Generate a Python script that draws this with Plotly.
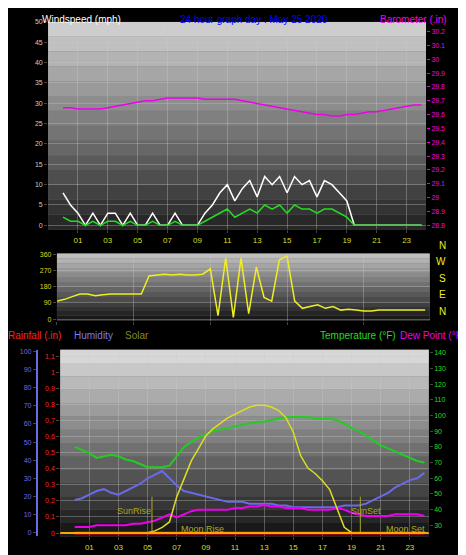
import plotly.graph_objects as go

hours = [i * 0.5 for i in range(49)]

wind_gust = [8, 5, 3, 0, 3, 0, 3, 3, 0, 3, 0, 0, 3, 0, 0, 3, 0, 0, 0, 3, 5, 8, 10, 6, 9, 11, 7, 12,
             10, 12, 8, 12, 10, 11, 7, 11, 10, 8, 6, 0, 0, 0, 0, 0, 0, 0, 0, 0, 0]
wind_avg = [2, 1, 1, 0, 1, 0, 1, 1, 0, 1, 0, 0, 1, 0, 0, 1, 0, 0, 0, 1, 2, 3, 4, 2, 3, 4, 3, 5,
            4, 5, 3, 5, 4, 4, 3, 4, 4, 3, 2, 0, 0, 0, 0, 0, 0, 0, 0, 0, 0]
baro = [29.65, 29.65, 29.64, 29.64, 29.64, 29.64, 29.65, 29.66, 29.67, 29.68, 29.69, 29.70,
        29.70, 29.71, 29.72, 29.72, 29.72, 29.72, 29.72, 29.71, 29.71, 29.71, 29.71, 29.71,
        29.70, 29.69, 29.68, 29.67, 29.66, 29.65, 29.64, 29.63, 29.62, 29.61, 29.60, 29.60,
        29.59, 29.59, 29.60, 29.60, 29.61, 29.62, 29.62, 29.63, 29.64, 29.65, 29.66, 29.67, 29.67]
wind_dir = [100, 110, 125, 140, 140, 130, 135, 140, 140, 140, 140, 140, 240, 245, 250, 245,
            250, 245, 245, 250, 280, 20, 340, 10, 340, 30, 290, 120, 100, 330, 350, 100, 60,
            70, 80, 60, 70, 50, 55, 50, 45, 45, 50, 50, 50, 50, 50, 50, 50]

temp = [80, 78, 76, 73, 74, 75, 74, 72, 71, 69, 67, 67, 67, 68, 74, 80, 83, 86, 88, 90, 91,
        92, 93, 94, 95, 96, 96, 97, 98, 99, 99, 99, 99, 98, 98, 98, 97, 95, 92, 90, 87, 84,
        81, 79, 77, 75, 73, 71, 70]
dew = [29, 29, 29, 30, 30, 30, 30, 30, 31, 31, 32, 33, 35, 37, 35, 37, 39, 40, 40, 40, 40,
       40, 41, 41, 42, 42, 43, 42, 42, 41, 41, 41, 40, 40, 40, 40, 41, 40, 38, 37, 36, 36,
       36, 36, 37, 37, 37, 37, 36]
humidity = [18, 19, 21, 23, 24, 22, 21, 23, 25, 27, 30, 32, 34, 30, 26, 23, 22, 21, 20, 19, 18,
            17, 17, 17, 16, 16, 16, 16, 15, 15, 14, 14, 14, 14, 14, 14, 14, 15, 15, 15, 16, 18,
            20, 22, 25, 27, 29, 30, 33]
solar = [0, 0, 0, 0, 0, 0, 0, 0, 0, 0, 0, 0.01, 0.03, 0.06, 0.2, 0.3, 0.4, 0.47, 0.54, 0.58,
         0.61, 0.64, 0.66, 0.68, 0.7, 0.71, 0.71, 0.7, 0.68, 0.64, 0.56, 0.43, 0.36, 0.33, 0.29,
         0.24, 0.13, 0.03, 0.0, 0.0, 0, 0, 0, 0, 0, 0, 0, 0, 0]
rain = [0] * 49

tick_hours = list(range(1, 24, 2))
tick_text = ["%02d" % h for h in tick_hours]
xr = [-1.0, 24.3]

fig = go.Figure()
fig.add_trace(go.Scatter(x=hours, y=wind_gust, mode="lines", line=dict(color="white", width=1.5),
                         xaxis="x", yaxis="y"))
fig.add_trace(go.Scatter(x=hours, y=wind_avg, mode="lines", line=dict(color="#22dd22", width=1.5),
                         xaxis="x", yaxis="y"))
fig.add_trace(go.Scatter(x=hours, y=baro, mode="lines", line=dict(color="#ee00ee", width=1.5),
                         xaxis="x", yaxis="y2"))
fig.add_trace(go.Scatter(x=hours, y=wind_dir, mode="lines", line=dict(color="#eeee22", width=1.5),
                         xaxis="x2", yaxis="y3"))
fig.add_trace(go.Scatter(x=hours, y=humidity, mode="lines", line=dict(color="#6a6ae8", width=2),
                         xaxis="x3", yaxis="y4"))
fig.add_trace(go.Scatter(x=hours, y=rain, mode="lines", line=dict(color="#ff0000", width=3),
                         xaxis="x3", yaxis="y5"))
fig.add_trace(go.Scatter(x=hours, y=temp, mode="lines", line=dict(color="#22cc22", width=2),
                         xaxis="x3", yaxis="y6"))
fig.add_trace(go.Scatter(x=hours, y=dew, mode="lines", line=dict(color="#ee00ee", width=2),
                         xaxis="x3", yaxis="y6"))
fig.add_trace(go.Scatter(x=hours, y=solar, mode="lines", line=dict(color="#dddd22", width=1.5),
                         xaxis="x3", yaxis="y7"))

f = dict(family="Liberation Sans", size=8)
ax = dict(showgrid=True, gridcolor="rgba(200,200,200,0.35)", zeroline=False, ticks="outside",
          ticklen=3, showline=False)
fig.update_layout(
    width=466, height=555, paper_bgcolor="black", plot_bgcolor="#777777",
    margin=dict(l=0, r=0, t=0, b=0), showlegend=False, font=f,
    xaxis=dict(ax, domain=[0.086, 0.897], range=xr, tickvals=tick_hours, ticktext=tick_text,
               tickfont=dict(color="#dddd22", size=8), anchor="y"),
    yaxis=dict(ax, domain=[0.604, 0.982], range=[-1, 50], dtick=5,
               tickfont=dict(color="#cccccc", size=7), anchor="x"),
    yaxis2=dict(ax, overlaying="y", side="right", range=[28.77, 30.27], dtick=0.1, showgrid=False,
                tickfont=dict(color="#ee00ee", size=7), anchor="x", tickcolor="#ee00ee"),
    xaxis2=dict(ax, domain=[0.105, 0.905], range=[0, 24.3], showticklabels=False, anchor="y3"),
    yaxis3=dict(ax, domain=[0.438, 0.560], range=[-8, 365], tickvals=[0, 90, 180, 270, 360],
                ticktext=["0", "90", "180", "270", "360"], showgrid=True,
                tickfont=dict(color="#dddd22", size=7), anchor="x2"),
    xaxis3=dict(ax, domain=[0.112, 0.903], range=xr, tickvals=tick_hours, ticktext=tick_text,
                tickfont=dict(color="#dddd22", size=8), anchor="y5"),
    yaxis4=dict(ax, domain=[0.045, 0.385], range=[-2, 101], dtick=10, showgrid=False,
                tickfont=dict(color="#6a6ae8", size=7), anchor="free", position=0.062,
                showline=True, linecolor="#6a6ae8", linewidth=2),
    yaxis5=dict(ax, domain=[0.045, 0.385], range=[-0.02, 1.14], dtick=0.1,
                tickfont=dict(color="#ff2222", size=7), anchor="x3", overlaying="y4"),
    yaxis6=dict(ax, overlaying="y4", side="right", range=[23, 142], tickvals=list(range(30, 141, 10)),
                showgrid=False, tickfont=dict(color="#22dd22", size=7), anchor="x3"),
    yaxis7=dict(overlaying="y4", range=[-0.02, 1.02], visible=False),
)

# gradient-ish backgrounds
shapes = []
for xr_, yr_, top, bot in [("x domain", "y domain", 205, 40), ("x2 domain", "y3 domain", 190, 25),
                           ("x3 domain", "y5 domain", 215, 25)]:
    n = 14
    for i in range(n):
        c = int(top + (bot - top) * i / (n - 1))
        shapes.append(dict(type="rect", xref=xr_, yref=yr_, x0=0, x1=1, y0=1 - (i + 1) / n,
                           y1=1 - i / n, fillcolor="rgb(%d,%d,%d)" % (c, c, c), line_width=0,
                           layer="below"))
shapes.append(dict(type="line", xref="x3", yref="y7", x0=5.3, x1=5.3, y0=0, y1=0.2,
                   line=dict(color="#aaaa22", width=1)))
shapes.append(dict(type="line", xref="x3", yref="y7", x0=19.6, x1=19.6, y0=0, y1=0.2,
                   line=dict(color="#aaaa22", width=1)))
shapes.append(dict(type="line", xref="x3", yref="y5", x0=-1, x1=24.3, y0=0, y1=0,
                   line=dict(color="orange", width=2)))
fig.update_layout(shapes=shapes)

# (left pixel, top pixel, text, colour)
ann = [
    (34, 0, "Windspeed (mph)", "white"),
    (172, 0, "24 hour graph day : May 25 2020", "#0000ff"),
    (372, 0, "Barometer (.in)", "#ee00ee"),
    (0, 319, "Rainfall (.in)", "#ff2222"),
    (66, 319, "Humidity", "#7a7ae8"),
    (117, 319, "Solar", "#888822"),
    (312, 319, "Temperature (°F)", "#22dd22"),
    (392, 319, "Dew Point (°F)", "#ee00ee"),
]
annotations = []
for px, py, t, c in ann:
    annotations.append(dict(xref="paper", yref="paper", x=px / 466, y=1 - py / 555, text=t,
                            showarrow=False, xanchor="left", yanchor="top", xshift=-2,
                            font=dict(color=c, size=10, family="Liberation Sans")))
for i, d in enumerate(["N", "W", "S", "E", "N"]):
    annotations.append(dict(xref="paper", yref="paper", x=0.945, y=0.575 - i * 0.03, text=d,
                            showarrow=False, font=dict(color="#eeee22", size=10)))
for x, y, t in [(4.1, 0.12, "SunRise"), (20.0, 0.12, "SunSet"), (8.8, 0.02, "Moon Rise"),
                (22.7, 0.02, "Moon Set")]:
    annotations.append(dict(xref="x3", yref="y7", x=x, y=y, text=t, showarrow=False,
                            font=dict(color="#aaaa22", size=9)))
fig.update_layout(annotations=annotations)

fig.write_html("out.html")
